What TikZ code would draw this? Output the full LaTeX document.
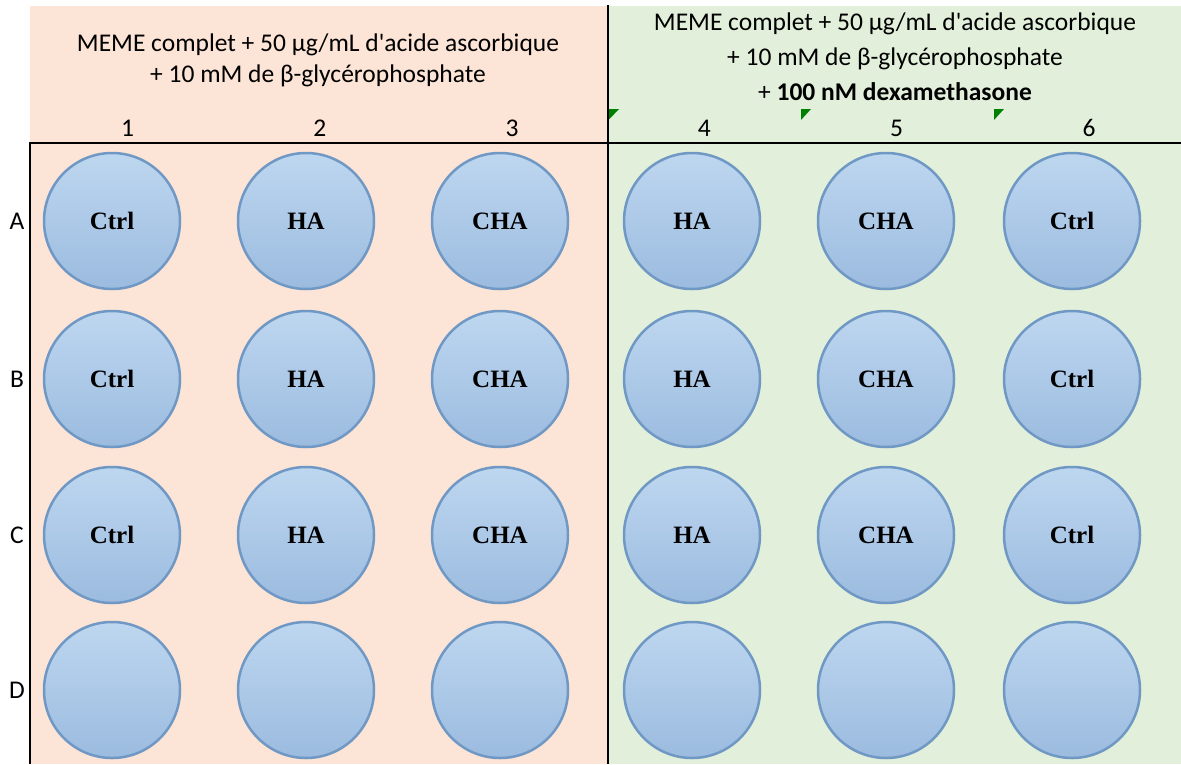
\documentclass[tikz,border=0pt]{standalone}
\usepackage{fontspec}
\setmainfont{Carlito}
\newfontfamily\wellfont{Liberation Serif}
\usepackage{tikz}
\usetikzlibrary{positioning}
\definecolor{pinkbg}{RGB}{252,228,214}
\definecolor{greenbg}{RGB}{226,239,218}
\definecolor{welltop}{RGB}{190,215,240}
\definecolor{wellbot}{RGB}{155,187,223}
\definecolor{wellline}{RGB}{112,152,196}
\definecolor{flag}{RGB}{0,128,0}
\tikzstyle{line} = [draw, line width=2pt]
\tikzstyle{well} = [circle, draw=wellline, line width=2.5pt, top color=welltop, bottom color=wellbot, minimum size=136pt, inner sep=0pt, node distance=158pt, font=\fontsize{25}{25}\selectfont\wellfont\bfseries]
\tikzstyle{head} = [align=center, font=\fontsize{25.5}{31}\selectfont]
\tikzstyle{num} = [font=\fontsize{25.5}{31}\selectfont, node distance=192.3pt]
\tikzstyle{flagmark} = [fill=flag]

\begin{document}
\begin{tikzpicture}[x=1pt, y=-1pt]
	\useasboundingbox (0,0) rectangle (1181,764);
	
	\fill [pinkbg] (30,6) rectangle (607.5,764);
	\fill [greenbg] (607.5,6) rectangle (1181,764);
	
	\node [head] (h1) at (318,60) {MEME complet + 50 µg/mL d\textquotesingle acide ascorbique\\+ 10 mM de β-glycérophosphate};
	\node [head, font=\fontsize{25.5}{35}\selectfont] (h2) at (895,57) {MEME complet + 50 µg/mL d\textquotesingle acide ascorbique\\+ 10 mM de β-glycérophosphate\\+ \textbf{100 nM dexamethasone}};
	
	\node [num] (n1) at (127.5,128) {1};
	\node [num, right of = n1] (n2) {2};
	\node [num, right of = n2] (n3) {3};
	\node [num, right of = n3] (n4) {4};
	\node [num, right of = n4] (n5) {5};
	\node [num, right of = n5] (n6) {6};
	
	\fill [flagmark] (608.5,109) -- (619,109) -- (608.5,120) -- cycle;
	\fill [flagmark] (801,109) -- (811,109) -- (801,120) -- cycle;
	\fill [flagmark] (994,109) -- (1004,109) -- (994,120) -- cycle;
	
	\path [line] (29,143) -- (1181,143);
	\path [line] (30,143) -- (30,764);
	\path [line] (607.5,5) -- (607.5,764);
	
	\node [well] (a1) at (112,221) {Ctrl};
	\node [well, right of = a1, node distance = 194pt] (a2) {HA};
	\node [well, right of = a2, node distance = 194pt] (a3) {CHA};
	\node [well, right of = a3, node distance = 192pt] (a4) {HA};
	\node [well, right of = a4, node distance = 194pt] (a5) {CHA};
	\node [well, right of = a5, node distance = 186pt] (a6) {Ctrl};
	
	\node [well, below of = a1] (b1) {Ctrl};
	\node [well, below of = a2] (b2) {HA};
	\node [well, below of = a3] (b3) {CHA};
	\node [well, below of = a4] (b4) {HA};
	\node [well, below of = a5] (b5) {CHA};
	\node [well, below of = a6] (b6) {Ctrl};
	
	\node [well, below of = b1, node distance = 156pt] (c1) {Ctrl};
	\node [well, below of = b2, node distance = 156pt] (c2) {HA};
	\node [well, below of = b3, node distance = 156pt] (c3) {CHA};
	\node [well, below of = b4, node distance = 156pt] (c4) {HA};
	\node [well, below of = b5, node distance = 156pt] (c5) {CHA};
	\node [well, below of = b6, node distance = 156pt] (c6) {Ctrl};
	
	\node [well, below of = c1, node distance = 155pt] (d1) {};
	\node [well, below of = c2, node distance = 155pt] (d2) {};
	\node [well, below of = c3, node distance = 155pt] (d3) {};
	\node [well, below of = c4, node distance = 155pt] (d4) {};
	\node [well, below of = c5, node distance = 155pt] (d5) {};
	\node [well, below of = c6, node distance = 155pt] (d6) {};
	
	\node [num, left of = a1, node distance = 95pt] (ra) {A};
	\node [num, left of = b1, node distance = 95pt] (rb) {B};
	\node [num, left of = c1, node distance = 95pt] (rc) {C};
	\node [num, left of = d1, node distance = 95pt] (rd) {D};
\end{tikzpicture}
\end{document}
